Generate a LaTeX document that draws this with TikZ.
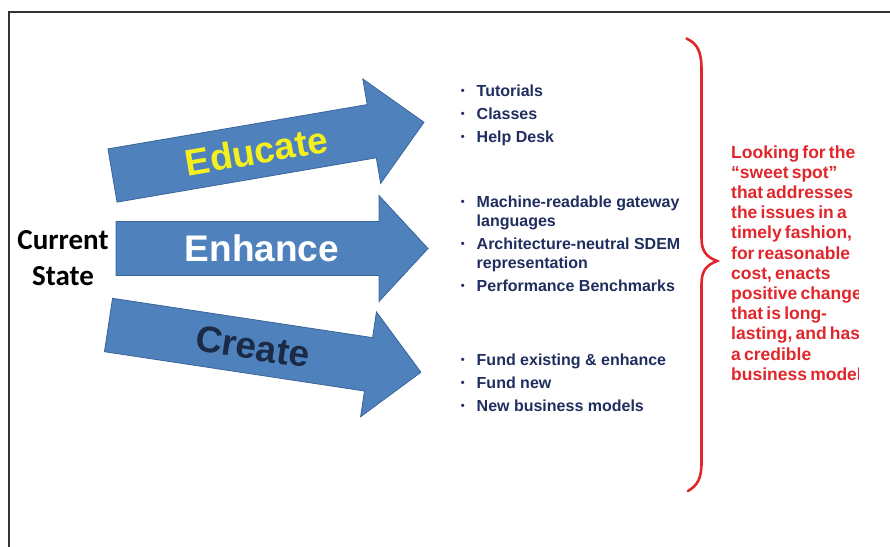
\documentclass[tikz,border=0pt]{standalone}
\usepackage{xcolor}
\usepackage{fontspec}
\setmainfont{Liberation Sans}
\newfontfamily\calib{Carlito}
\usepackage{tikz}

\definecolor{arrowblue}{HTML}{4F81BD}
\definecolor{arrowedge}{HTML}{3A6599}
\definecolor{navy}{HTML}{1F2E5E}
\definecolor{darknavy}{HTML}{1B2A47}
\definecolor{hiyellow}{HTML}{F4F01E}
\definecolor{sweetred}{HTML}{E0262B}

\newcommand{\bul}{\llap{\raisebox{1.5pt}{\fontsize{11}{11}\selectfont\textbullet}\hspace{12pt}}}
\newcommand{\tightwords}{\spaceskip=3.2pt plus 1pt\relax}

\tikzset{
  bigarrow/.style={fill=arrowblue, draw=arrowedge, line width=0.8pt, line join=miter},
  arrowword/.style={font=\fontsize{37}{37}\selectfont\bfseries, inner sep=0pt},
  items/.style={font=\fontsize{16}{19}\selectfont\bfseries, text=navy, align=left, inner sep=0pt, anchor=base west},
}

\begin{document}
\begin{tikzpicture}[x=1pt,y=-1pt]
\useasboundingbox (0,0) rectangle (890,546);

% frame
\draw[line width=2pt, black!80] (8.5,560) -- (8.5,11.5) -- (900,11.5);

% the three arrows
\begin{scope}[shift={(112.5,175.5)}, rotate=9.7]
\draw[bigarrow] (0,-27) -- (263,-27) -- (263,-53) -- (316,0) -- (263,53) -- (263,27) -- (0,27) -- cycle;
\node[arrowword, text=hiyellow, rotate=9.7] (educate) at (146,0) {Educate};
\end{scope}

\begin{scope}[shift={(116,248.5)}]
\draw[bigarrow] (0,-27) -- (263,-27) -- (263,-53) -- (312,0) -- (263,53) -- (263,27) -- (0,27) -- cycle;
\node[arrowword, text=white] (enhance) at (146,0) {Enhance};
\end{scope}

\begin{scope}[shift={(108.5,325)}, rotate=-8.6]
\draw[bigarrow] (0,-27) -- (263,-27) -- (263,-53) -- (316,0) -- (263,53) -- (263,27) -- (0,27) -- cycle;
\node[arrowword, text=darknavy, rotate=-8.6] (create) at (146,0) {Create};
\end{scope}

\node[font=\calib\fontsize{29}{36}\selectfont\bfseries, align=center, inner sep=0pt] (current) at (63,258) {Current\\State};

% bullet lists (base = last line)
\node[items] (edulist) at (476.5,142) {\bul Tutorials\\[4pt]\bul Classes\\[4pt]\bul Help Desk};
\node[items] (enhlist) at (476.5,291) {\bul Machine-readable gateway\\languages\\[4pt]\bul Architecture-neutral SDEM\\representation\\[4pt]\bul Performance Benchmarks};
\node[items] (crelist) at (476.5,411) {\bul Fund existing \& enhance\\[4pt]\bul Fund new\\[4pt]\bul New business models};

% brace
\draw[sweetred, line width=2.6pt, line cap=round] (686.5,38.5) .. controls (698,44) and (701.5,52) .. (701.5,70) -- (701.5,238) .. controls (701.5,252) and (707,257) .. (717,261) .. controls (707,265) and (701.5,270) .. (701.5,284) -- (701.5,462) .. controls (701.5,478) and (698,485) .. (688,491);

\begin{scope}
\clip (720,130) rectangle (858,400);
\node[font=\fontsize{17.5}{20.2}\selectfont\bfseries\tightwords, text=sweetred, align=left, inner sep=0pt, anchor=base west] (sweet) at (731,380.2) {Looking for the\\``sweet spot''\\that addresses\\the issues in a\\timely fashion,\\for reasonable\\cost, enacts\\positive change\\that is long-\\lasting, and has\\a credible\\business model};
\end{scope}
\end{tikzpicture}
\end{document}
